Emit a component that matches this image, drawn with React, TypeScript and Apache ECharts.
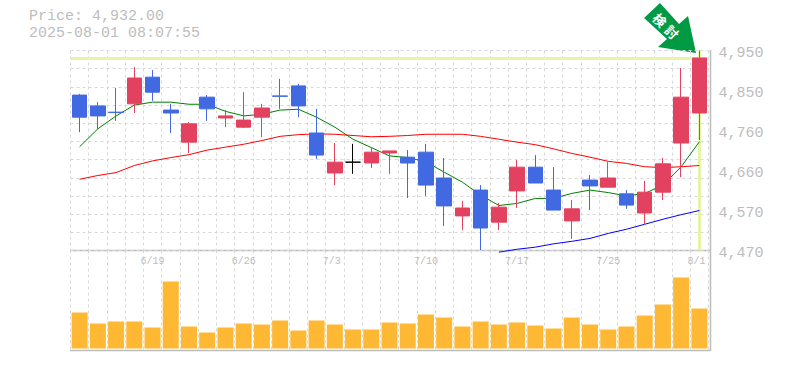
import React, { useEffect, useRef } from "react";
import * as echarts from "echarts";

const categories = ["6/13","6/16","6/17","6/18","6/19","6/20","6/23","6/24","6/25","6/26","6/27","6/30","7/1","7/2","7/3","7/4","7/7","7/8","7/9","7/10","7/11","7/14","7/15","7/16","7/17","7/18","7/22","7/23","7/24","7/25","7/28","7/29","7/30","7/31","8/1"];
const labelledDays = ["6/19","6/26","7/3","7/10","7/17","7/25","8/1"];
// open, close, low, high
const candles = [
  [4843,4790,4754,4846],[4817,4793,4762,4826],[4802,4801,4781,4860],[4822,4884,4800,4910],[4886,4850,4829,4903],
  [4807,4800,4752,4822],[4730,4774,4704,4778],[4838,4810,4781,4843],[4788,4793,4766,4807],[4766,4783,4764,4850],
  [4790,4812,4742,4822],[4841,4840,4810,4882],[4865,4817,4790,4870],[4752,4699,4690,4810],[4656,4682,4627,4728],
  [4682,4682,4654,4726],[4680,4706,4668,4716],[4704,4709,4654,4709],[4694,4680,4596,4711],[4706,4627,4601,4726],
  [4644,4577,4529,4692],[4553,4572,4519,4589],[4615,4524,4471,4627],[4538,4574,4519,4584],[4613,4670,4572,4687],
  [4670,4632,4632,4699],[4615,4567,4567,4670],[4541,4570,4498,4591],[4639,4625,4567,4651],[4622,4644,4622,4682],
  [4606,4579,4570,4615],[4560,4610,4534,4637],[4610,4678,4591,4692],[4728,4838,4646,4908],[4800,4932,4735,4950],
];
const maShort = [4719,4762,4793,4819,4826,4826,4821,4821,4804,4793,4797,4807,4809,4790,4766,4737,4717,4697,4693,4683,4658,4634,4603,4578,4583,4595,4595,4607,4615,4609,4601,4607,4627,4671,4731];
const maMid = [4641,4650,4657,4674,4685,4693,4700,4711,4718,4725,4734,4744,4748,4750,4749,4746,4743,4744,4746,4749,4749,4749,4744,4737,4730,4724,4714,4703,4694,4684,4679,4671,4669,4671,4674];
const maLong = [null,null,null,null,null,null,null,null,null,null,null,null,null,null,null,null,null,null,null,null,null,null,null,4466,4473,4478,4486,4492,4499,4511,4521,4533,4545,4556,4566];
const volumes = [36,25,27,27,21,67,22,16,21,25,24,28,18,28,24,19,19,26,25,34,31,22,27,24,26,23,20,31,24,19,22,33,44,71,40];
const priceTicks = [4470,4566,4662,4758,4854,4950];
const currentPrice = 4932;

const GREY = "#bdbdbd";
const FONT = "'Liberation Mono', monospace";
const dashed = { show: true, lineStyle: { color: "#d8d8d8", type: [3, 3] as any, width: 1 } };

export default function App() {
  const ref = useRef<HTMLDivElement>(null);
  useEffect(() => {
    const chart = echarts.init(ref.current!, undefined, { renderer: "svg" });
    const frame = { stroke: GREY, lineWidth: 1.5 };
    chart.setOption({
      animation: false,
      backgroundColor: "#fff",
      grid: [
        { left: 70.5, top: 50.5, width: 638, height: 200 },
        { left: 70.5, top: 250.5, width: 638, height: 100 },
      ],
      xAxis: [
        { type: "category", gridIndex: 0, data: categories, boundaryGap: true,
          axisLine: { show: false }, axisTick: { show: false }, axisLabel: { show: false },
          splitLine: { ...dashed, interval: 0 } },
        { type: "category", gridIndex: 1, data: categories, position: "top", boundaryGap: true,
          axisLine: { show: false }, axisTick: { show: false },
          splitLine: { ...dashed, interval: 0 },
          axisLabel: {
            show: true, inside: true, margin: 6, hideOverlap: false,
            interval: (_: number, v: string) => labelledDays.includes(v),
            formatter: (v: string) => `{d|${v}}`,
            rich: { d: { width: 24, align: "left", color: GREY, fontFamily: FONT, fontSize: 10 } },
          } },
      ],
      yAxis: [
        { type: "value", gridIndex: 0, position: "right", min: 4470, max: 4950,
          axisLine: { show: false }, axisTick: { show: false }, splitLine: { show: false },
          axisLabel: {
            show: true, customValues: priceTicks, margin: 10, color: GREY, fontFamily: FONT, fontSize: 15,
            verticalAlign: "top", padding: [-5, 0, 0, 0],
            formatter: (v: number) => (Math.round(v / 10) * 10).toLocaleString("en-US"),
          } },
        { type: "value", gridIndex: 0, position: "left", min: 0, max: 11, interval: 1,
          axisLine: { show: false }, axisTick: { show: false }, axisLabel: { show: false },
          splitLine: dashed },
        { type: "value", gridIndex: 1, min: -2, max: 98, show: false },
      ],
      series: [
        { type: "line", name: "MA short", data: maShort, xAxisIndex: 0, yAxisIndex: 0, z: 3, symbol: "none", clip: false,
          lineStyle: { color: "#008000", width: 1 },
          markLine: { silent: true, symbol: "none", z: 1, label: { show: false },
            lineStyle: { color: "#e6f5a5", width: 3, type: "solid" },
            data: [{ yAxis: currentPrice }, { xAxis: "8/1" }] } },
        { type: "line", name: "MA mid", data: maMid, xAxisIndex: 0, yAxisIndex: 0, z: 3, symbol: "none", clip: false,
          lineStyle: { color: "#ff0000", width: 1 } },
        { type: "line", name: "MA long", data: maLong, xAxisIndex: 0, yAxisIndex: 0, z: 3, symbol: "none", clip: false,
          lineStyle: { color: "#0000ff", width: 1 } },
        { type: "candlestick", name: "Price", data: candles, xAxisIndex: 0, yAxisIndex: 0, z: 4, barWidth: 15, clip: false,
          itemStyle: { color: "#e2425f", color0: "#4169e1", borderColor: "#e2425f", borderColor0: "#4169e1", borderColorDoji: "#000000", borderWidth: 1 } },
        { type: "bar", name: "Volume", data: volumes, xAxisIndex: 1, yAxisIndex: 2, barWidth: 16, z: 3,
          itemStyle: { color: "#ffb833" } },
      ],
      graphic: [
        { type: "text", x: 29, y: 9, style: { text: "Price: 4,932.00", fill: GREY, font: `15px ${FONT}` } },
        { type: "text", x: 29, y: 26, style: { text: "2025-08-01 08:07:55", fill: GREY, font: `15px ${FONT}` } },
        { type: "line", shape: { x1: 70, y1: 250.5, x2: 710, y2: 250.5 }, style: frame },
        { type: "line", shape: { x1: 70, y1: 350.5, x2: 710, y2: 350.5 }, style: frame },
        { type: "line", shape: { x1: 710.5, y1: 50, x2: 710.5, y2: 351 }, style: frame },
        { type: "polygon", shape: { points: [[660, 3], [644, 18], [667, 39], [658, 47], [696, 53], [688, 16], [679, 24]] }, style: { fill: "#009944" } },
        { type: "text", x: 660, y: 20, rotation: -Math.PI / 4, style: { text: "検", fill: "#fff", font: "bold 13px 'Noto Sans CJK JP'", align: "center", verticalAlign: "middle" } },
        { type: "text", x: 672, y: 32, rotation: -Math.PI / 4, style: { text: "討", fill: "#fff", font: "bold 13px 'Noto Sans CJK JP'", align: "center", verticalAlign: "middle" } },
      ],
    });
    return () => chart.dispose();
  }, []);
  return <div ref={ref} style={{ width: 785, height: 370, position: "fixed", left: 0, top: 0 }} />;
}
